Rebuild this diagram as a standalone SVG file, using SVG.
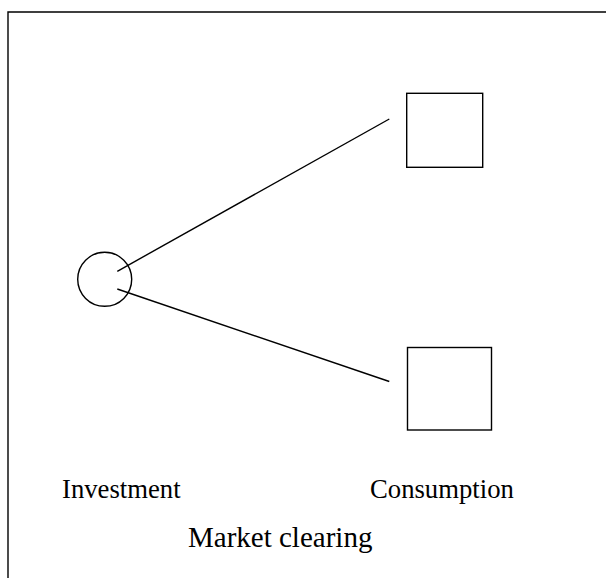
<svg xmlns="http://www.w3.org/2000/svg" width="606" height="578" viewBox="0 0 606 578">
<style>
.s{fill:none;stroke:#000;stroke-width:1.4}
.t{font-family:"Liberation Serif","Times New Roman",serif;font-size:26.7px;fill:#000}
</style>
<rect x="0" y="0" width="606" height="578" fill="#fff"/>
<g id="frame"><path class="s" d="M8 578V12H606" stroke-width="1.6"/></g>
<g id="connectors">
<line class="s" x1="117.3" y1="271.3" x2="389.3" y2="119"/>
<line class="s" x1="117.3" y1="289" x2="389.3" y2="381.5"/>
</g>
<g id="investment-node"><circle class="s" cx="104.7" cy="279.3" r="27"/></g>
<g id="consumption-node-1"><rect class="s" x="406.7" y="93.3" width="76" height="74"/></g>
<g id="consumption-node-2"><rect class="s" x="407.5" y="347.5" width="84" height="82.5"/></g>
<g id="labels">
<text class="t" x="62" y="498">Investment</text>
<text class="t" x="370" y="498">Consumption</text>
<text class="t" x="188" y="547" style="font-size:29px">Market clearing</text>
</g>
</svg>
